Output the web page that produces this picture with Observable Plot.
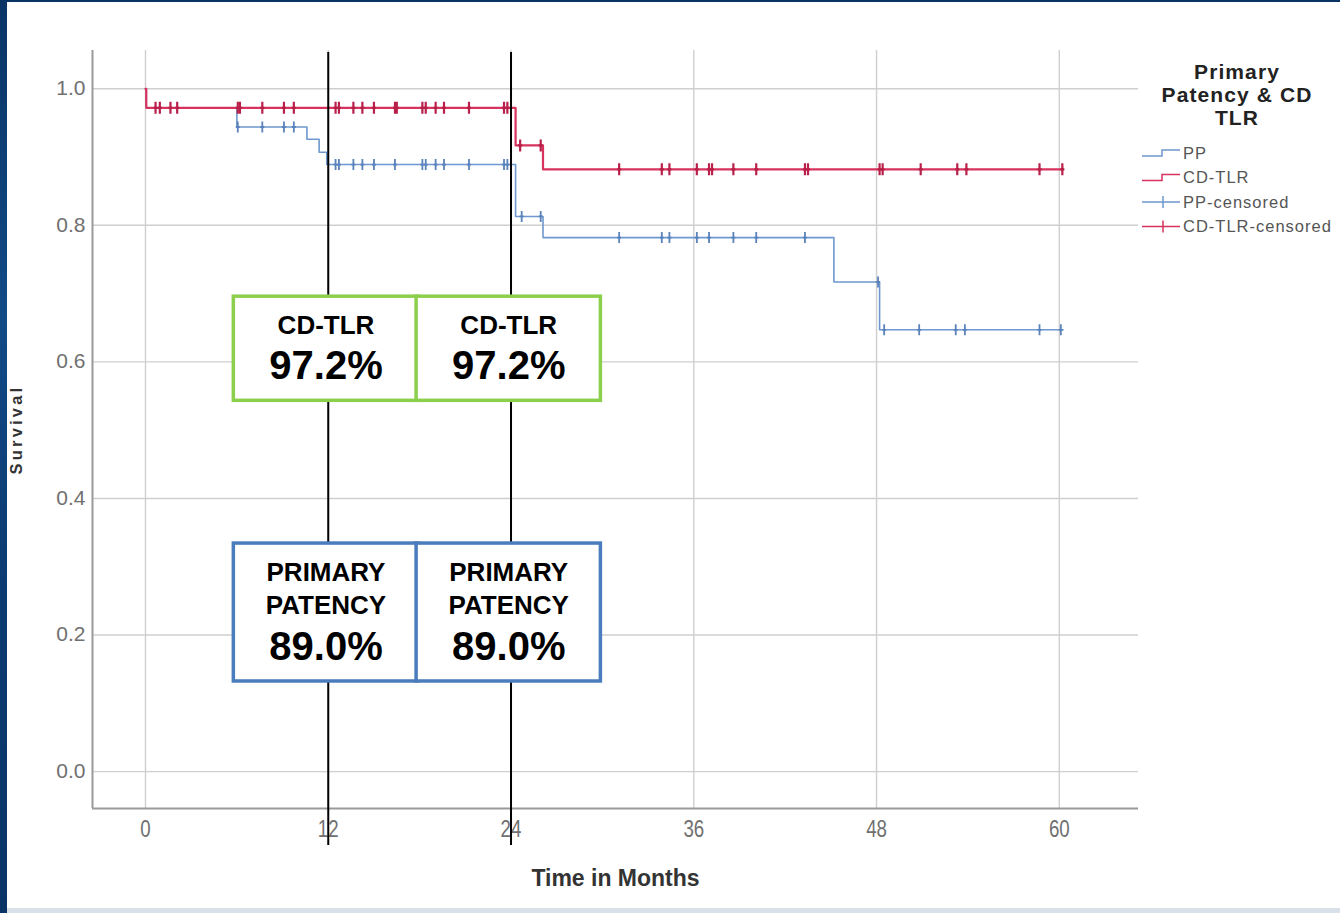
<!DOCTYPE html>
<html><head><meta charset="utf-8">
<script src="https://cdn.jsdelivr.net/npm/d3@7"></script>
<script src="https://cdn.jsdelivr.net/npm/@observablehq/plot@0.6"></script>
<style>
html,body{margin:0;padding:0;background:#0b3567;}
#page{position:relative;width:1340px;height:913px;overflow:hidden;
  background:linear-gradient(180deg,#0a3466 0%,#124a86 35%,#0c3c74 60%,#0a3466 100%);}
#white{position:absolute;left:7px;top:2px;right:0;bottom:5px;background:#fff;}
#bottomstrip{position:absolute;left:7px;right:0;bottom:0;height:5px;background:#d8e0ea;}
#chart{position:absolute;left:0;top:0;}
#legend{position:absolute;left:1140px;top:55px;}
</style></head>
<body>
<div id="page">
  <div id="white"></div>
  <div id="bottomstrip"></div>
  <div id="chart"></div>
  <div id="legend"></div>
</div>
<script>
// ---- data ----
const xTicks = [0, 12, 24, 36, 48, 60];
const yTicks = [0, 0.2, 0.4, 0.6, 0.8, 1.0];

// Primary patency (PP) Kaplan-Meier steps
const ppTime = [0, 0.05, 6.0, 10.6, 11.4, 11.9, 24.3, 26.1, 45.2, 48.2, 60.25];
const ppSurv = [1.0, 0.972, 0.944, 0.926, 0.907, 0.889, 0.813, 0.782, 0.717, 0.647, 0.647];
// CD-TLR Kaplan-Meier steps
const tlrTime = [0, 0.05, 24.3, 26.1, 60.25];
const tlrSurv = [1.0, 0.972, 0.917, 0.882, 0.882];

// censored observations
const ppCensTime = [6.06, 7.67, 9.09, 9.74, 12.48, 12.7, 13.65, 14.24, 15.0, 16.38, 18.18, 18.4, 19.05, 19.6, 21.24, 23.54, 23.76,
  24.7, 25.95, 31.1, 33.9, 34.4, 36.2, 37.0, 38.6, 40.1, 43.3, 48.1, 48.5, 50.8, 53.2, 53.8, 58.7, 60.1];
const ppCensSurv = [0.944, 0.944, 0.944, 0.944, 0.889, 0.889, 0.889, 0.889, 0.889, 0.889, 0.889, 0.889, 0.889, 0.889, 0.889, 0.889, 0.889,
  0.813, 0.813, 0.782, 0.782, 0.782, 0.782, 0.782, 0.782, 0.782, 0.782, 0.717, 0.647, 0.647, 0.647, 0.647, 0.647, 0.647];
const tlrCensTime = [0.66, 0.94, 1.64, 2.08, 6.06, 6.2, 7.67, 9.09, 9.74, 12.48, 12.7, 13.65, 14.24, 15.0, 16.38, 16.5, 18.18, 18.4, 19.05, 19.6, 21.24, 23.54, 23.76,
  24.6, 25.95, 31.1, 33.9, 34.4, 36.2, 37.0, 37.2, 38.6, 40.1, 43.3, 43.5, 48.2, 48.4, 50.9, 53.3, 53.9, 58.7, 60.2];
const tlrCensSurv = [0.972, 0.972, 0.972, 0.972, 0.972, 0.972, 0.972, 0.972, 0.972, 0.972, 0.972, 0.972, 0.972, 0.972, 0.972, 0.972, 0.972, 0.972, 0.972, 0.972, 0.972, 0.972, 0.972,
  0.917, 0.917, 0.882, 0.882, 0.882, 0.882, 0.882, 0.882, 0.882, 0.882, 0.882, 0.882, 0.882, 0.882, 0.882, 0.882, 0.882, 0.882, 0.882];

// milestone annotations
const milestones = [12, 24];
const tlrPct = ["97.2%", "97.2%"];
const ppPct = ["89.0%", "89.0%"];

const seriesNames = ["PP", "CD-TLR", "PP-censored", "CD-TLR-censored"];

// ---- build tables ----
const pp = ppTime.map((t, i) => ({t, s: ppSurv[i]}));
const tlr = tlrTime.map((t, i) => ({t, s: tlrSurv[i]}));
const ppC = ppCensTime.map((t, i) => ({t, s: ppCensSurv[i]}));
const tlrC = tlrCensTime.map((t, i) => ({t, s: tlrCensSurv[i]}));
const ann = milestones.map((m, i) => ({m, tlr: tlrPct[i], pp: ppPct[i]}));

const BLUE = "#6e98cf", BLUE_D = "#5a82bb";
const RED = "#d8325e", RED_D = "#b8204a";
const GREEN = "#8ccf4d", BOXBLUE = "#4a7dbd";
const xDom = [-3.48, 65.2], yDom = [-0.054, 1.056];

const vbar = {draw(ctx, size) { const r = Math.sqrt(size / Math.PI); ctx.moveTo(0, -r); ctx.lineTo(0, r); ctx.moveTo(-2, 0); ctx.lineTo(2, 0); }};

const plot = Plot.plot({
  width: 1340, height: 913,
  marginLeft: 92, marginRight: 202, marginTop: 50, marginBottom: 105,
  style: {background: "transparent", fontFamily: "'Liberation Sans', Arial, sans-serif", overflow: "visible"},
  x: {domain: xDom},
  y: {domain: yDom},
  marks: [
    Plot.gridX(xTicks, {stroke: "#cfcfcf", strokeOpacity: 1, strokeWidth: 1.4}),
    Plot.gridY(yTicks, {stroke: "#cfcfcf", strokeOpacity: 1, strokeWidth: 1.4}),
    Plot.ruleX([xDom[0]], {stroke: "#9a9a9a", strokeWidth: 2}),
    Plot.ruleY([yDom[0]], {stroke: "#9a9a9a", strokeWidth: 2}),
    Plot.axisX(xTicks, {tickSize: 0, tickPadding: 11, fontSize: 24, fill: "#707070", label: null}),
    Plot.axisY(yTicks, {tickSize: 0, tickPadding: 7, fontSize: 20, fill: "#707070", label: null, tickFormat: d3.format(".1f")}),
    Plot.text(["Time in Months"], {frameAnchor: "bottom", lineAnchor: "middle", textAnchor: "middle", dy: 70, fontSize: 23, fontWeight: "bold", fill: "#333"}),
    Plot.text(["Survival"], {frameAnchor: "left", textAnchor: "middle", lineAnchor: "middle", dx: -76, rotate: -90, fontSize: 16.5, fontWeight: "bold", fill: "#333"}),
    Plot.line(pp, {x: "t", y: "s", curve: "step-after", stroke: BLUE, strokeWidth: 1.6}),
    Plot.line(tlr, {x: "t", y: "s", curve: "step-after", stroke: RED, strokeWidth: 2.2}),
    Plot.dot(ppC, {x: "t", y: "s", symbol: vbar, r: 5.5, stroke: BLUE_D, strokeWidth: 1.8, fill: "none"}),
    Plot.dot(tlrC, {x: "t", y: "s", symbol: vbar, r: 6, stroke: RED_D, strokeWidth: 2.2, fill: "none"}),
    Plot.ruleX(milestones, {y1: -0.108, y2: 1.053, stroke: "#000", strokeWidth: 2}),
    Plot.rect(ann, {x1: d => d.m - 6.2, x2: d => d.m + 5.9, y1: 0.543, y2: 0.6955, fill: "#fff", stroke: GREEN, strokeWidth: 3.5}),
    Plot.rect(ann, {x1: d => d.m - 6.2, x2: d => d.m + 5.9, y1: 0.132, y2: 0.334, fill: "#fff", stroke: BOXBLUE, strokeWidth: 3.5}),
    Plot.text(ann, {x: d => d.m - 0.15, y: 0.653, text: () => "CD-TLR", fontSize: 26, fontWeight: "bold", fill: "#000"}),
    Plot.text(ann, {x: d => d.m - 0.15, y: 0.593, text: "tlr", fontSize: 40, fontWeight: "bold", fill: "#000"}),
    Plot.text(ann, {x: d => d.m - 0.15, y: 0.2914, text: () => "PRIMARY", fontSize: 26, fontWeight: "bold", fill: "#000"}),
    Plot.text(ann, {x: d => d.m - 0.15, y: 0.243, text: () => "PATENCY", fontSize: 26, fontWeight: "bold", fill: "#000"}),
    Plot.text(ann, {x: d => d.m - 0.15, y: 0.1816, text: "pp", fontSize: 40, fontWeight: "bold", fill: "#000"})
  ]
});
document.getElementById("chart").appendChild(plot);

// reshape text like the reference raster
d3.select(plot).selectAll("g[aria-label='y-axis tick label'] text").each(function() {
  const tr = this.getAttribute("transform") || "";
  this.setAttribute("transform", tr + " scale(1.05,1)");
});
d3.select(plot).selectAll("g[aria-label='x-axis tick label'] text").each(function() {
  const tr = this.getAttribute("transform") || "";
  this.setAttribute("transform", tr + " scale(0.78,1.02)");
});
d3.select(plot).selectAll("text").filter(function() { return this.textContent === "Survival"; })
  .style("letter-spacing", "3.2px");

// ---- legend ----
const lg = d3.select("#legend").append("svg").attr("width", 200).attr("height", 190)
  .style("font-family", "'Liberation Sans', Arial, sans-serif");
["Primary", "Patency & CD", "TLR"].forEach((s, i) => {
  lg.append("text").attr("x", 97).attr("y", 24 + i * 23).attr("text-anchor", "middle")
    .attr("font-size", 21).attr("font-weight", "bold").attr("fill", "#222")
    .attr("letter-spacing", "1.1px").text(s);
});
const legColors = [BLUE, RED, BLUE, RED];
seriesNames.forEach((name, i) => {
  const y = 98 + i * 24.5;
  if (i < 2) {
    lg.append("path").attr("d", `M2,${y + 3}H22V${y - 3}H40`).attr("fill", "none")
      .attr("stroke", legColors[i]).attr("stroke-width", 1.5);
  } else {
    lg.append("path").attr("d", `M2,${y}H40M23,${y - 6}V${y + 6}`).attr("fill", "none")
      .attr("stroke", legColors[i]).attr("stroke-width", 1.5);
  }
  lg.append("text").attr("x", 43).attr("y", y).attr("dy", "0.35em").attr("font-size", 16.5)
    .attr("letter-spacing", "1px").attr("fill", "#555").text(name);
});
</script>
</body></html>
